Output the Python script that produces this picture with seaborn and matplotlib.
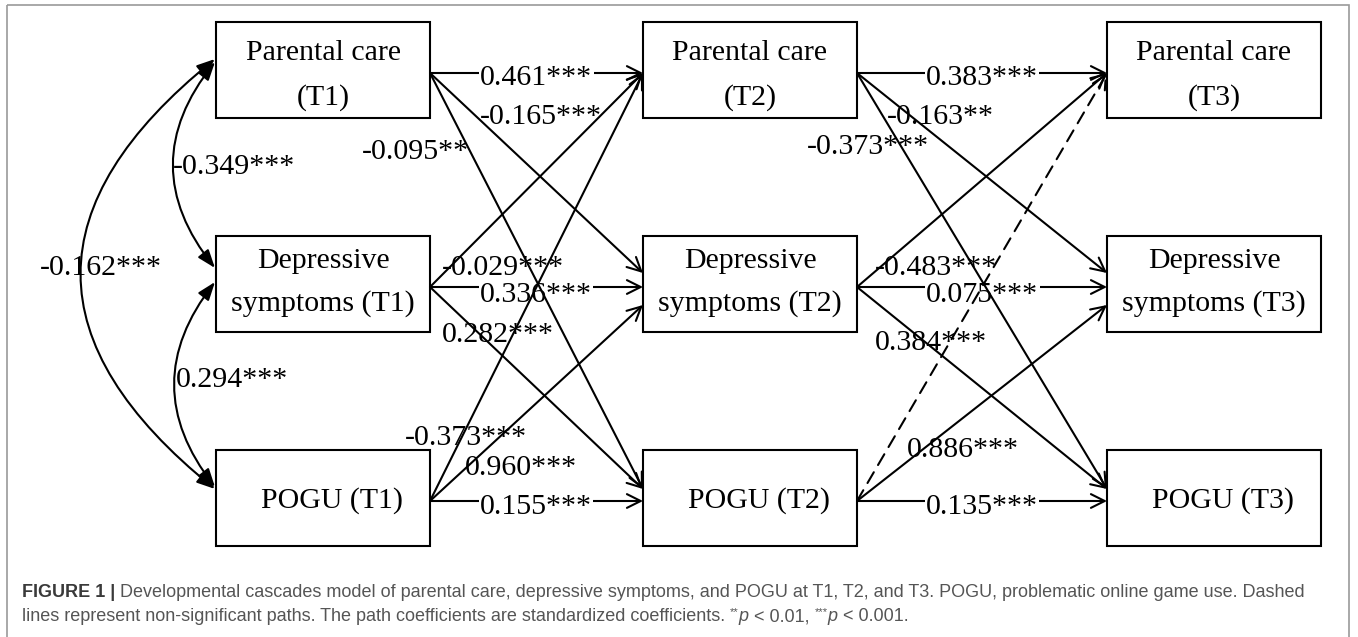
import matplotlib
matplotlib.use("Agg")
import matplotlib.pyplot as plt
from matplotlib.patches import Rectangle, FancyArrowPatch
import seaborn as sns

# ---- data ----
constructs = ["PC", "DS", "PG"]
waves = ["T1", "T2", "T3"]
box_lines = {
    "PC": ["Parental care", "({})"],
    "DS": ["Depressive", "symptoms ({})"],
    "PG": ["POGU ({})"],
}

# cross-lagged paths, same order for both lags
path_src = ["PC", "PC", "PC", "DS", "DS", "DS", "PG", "PG", "PG"]
path_dst = ["PC", "DS", "PG", "PC", "DS", "PG", "PC", "DS", "PG"]
coef_t12 = ["0.461", "-0.165", "-0.095", "-0.029", "0.336", "0.282", "-0.373", "0.960", "0.155"]
stars_t12 = ["***", "***", "**", "***", "***", "***", "***", "***", "***"]
coef_t23 = ["0.383", "-0.163", "-0.373", "-0.483", "0.075", "0.384", "", "0.886", "0.135"]
stars_t23 = ["***", "**", "***", "***", "***", "***", "", "***", "***"]
sig_t23 = [True, True, True, True, True, True, False, True, True]

# T1 correlations
corr_a = ["PC", "DS", "PC"]
corr_b = ["DS", "PG", "PG"]
corr_val = ["-0.349***", "0.294***", "-0.162***"]

caption1 = "Developmental cascades model of parental care, depressive symptoms, and POGU at T1, T2, and T3. POGU, problematic online game use. Dashed"
caption2 = "lines represent non-significant paths. The path coefficients are standardized coefficients."

# ---- layout (pixels) ----
col_x = [216, 643, 1107]
box_w = 214
row_y = {"PC": 22, "DS": 236, "PG": 450}
box_h = 96
row_idx = {"PC": 0, "DS": 1, "PG": 2}

lab_t12 = [(480, 78), (480, 117), (362, 152), (442, 268), (480, 295),
           (442, 335), (405, 438), (465, 468), (480, 507)]
lab_t23 = [(926, 78), (887, 117), (807, 147), (875, 268), (926, 295),
           (875, 343), None, (907, 450), (926, 507)]
corr_pos = [(173, 167), (176, 380), (40, 268)]
corr_ends = [((215, 62), (215, 268), 0.40), ((215, 282), (215, 487), 0.39),
             ((215, 59), (215, 489), 0.62)]

sns.set_theme(style="white")
plt.rcParams["font.family"] = ["Liberation Serif", "DejaVu Serif"]
plt.rcParams["text.color"] = "black"

W, H = 1358, 637
fig = plt.figure(figsize=(W / 100, H / 100), dpi=100)
ax = fig.add_axes([0, 0, 1, 1])
ax.set_xlim(0, W)
ax.set_ylim(H, 0)
ax.axis("off")

# outer frame
ax.add_patch(Rectangle((7, 5), 1342, 640, fill=False, edgecolor="#9a9a9a", lw=1.2, zorder=0))

FS = 21.5
LW = 1.5

def mid_y(c):
    return row_y[c] + box_h / 2 + 3

# boxes
for k, w in enumerate(waves):
    x0 = col_x[k]
    for c in constructs:
        ax.add_patch(Rectangle((x0, row_y[c]), box_w, box_h, facecolor="white",
                               edgecolor="black", lw=LW, zorder=2))
        lines = box_lines[c]
        cx = x0 + box_w / 2
        if len(lines) == 1:
            ax.text(cx + 9, row_y[c] + 51, lines[0].format(w), ha="center", va="center",
                    fontsize=FS, zorder=6)
        else:
            offs = [31, 76] if c == "PC" else [25, 68]
            for t, o in zip(lines, offs):
                ax.text(cx, row_y[c] + o, t.format(w), ha="center", va="center",
                        fontsize=FS, zorder=6)

def end_y(s, d):
    y = mid_y(d)
    if row_idx[s] < row_idx[d]:
        y -= 14 if d == "DS" else 12
    elif row_idx[s] > row_idx[d] and d != "PC":
        y += 18
    return y

def draw_lag(k, coefs, stars, labs, sig):
    xa = col_x[k] + box_w
    xb = col_x[k + 1]
    for i, (s, d) in enumerate(zip(path_src, path_dst)):
        flat = s == d
        ls = "-" if sig[i] else (0, (6, 4))
        arr = FancyArrowPatch((xa, mid_y(s)), (xb, end_y(s, d)),
                              arrowstyle="->,head_length=0.9,head_width=0.45",
                              mutation_scale=11, lw=LW, color="black",
                              linestyle=ls, shrinkA=0, shrinkB=0,
                              zorder=1 if flat else 4)
        ax.add_patch(arr)
        if labs[i] is None:
            continue
        kw = dict(ha="left", va="center", fontsize=FS, zorder=3 if flat else 5)
        if flat:
            kw["bbox"] = dict(facecolor="white", edgecolor="none", pad=1)
        ax.text(labs[i][0], labs[i][1], coefs[i] + stars[i], **kw)

draw_lag(0, coef_t12, stars_t12, lab_t12, [True] * 9)
draw_lag(1, coef_t23, stars_t23, lab_t23, sig_t23)

# correlations among T1 variables
for (pa, pb, rad), txt, pos in zip(corr_ends, corr_val, corr_pos):
    ax.add_patch(FancyArrowPatch(pa, pb, connectionstyle=f"arc3,rad={rad}",
                                 arrowstyle="<|-|>,head_length=1.1,head_width=0.4",
                                 mutation_scale=10, lw=LW, color="black",
                                 shrinkA=0, shrinkB=0, zorder=4))
    ax.text(pos[0], pos[1], txt, ha="left", va="center", fontsize=FS, zorder=5)

# caption
cap_fs = 13.0
sans = ["Liberation Sans", "DejaVu Sans"]
renderer = fig.canvas.get_renderer()

def run_text(x, y, runs):
    for txt, style in runs:
        kw = dict(fontsize=cap_fs, family=sans, color="#555555", va="baseline", ha="left")
        dy = 0
        if style == "bold":
            kw.update(fontweight="bold", color="#3a3a3a")
        elif style == "italic":
            kw.update(fontstyle="italic")
        elif style == "sup":
            kw.update(fontsize=cap_fs * 0.62)
            dy = -6
        t = ax.text(x, y + dy, txt, **kw)
        x = t.get_window_extent(renderer).x1
    return x

run_text(22, 597, [("FIGURE 1 |", "bold"), (" " + caption1, "normal")])
run_text(22, 621, [(caption2 + " ", "normal"), ("**", "sup"), ("p", "italic"),
                   (" < 0.01, ", "normal"), ("***", "sup"), ("p", "italic"),
                   (" < 0.001.", "normal")])

fig.savefig("out.png", dpi=100)
